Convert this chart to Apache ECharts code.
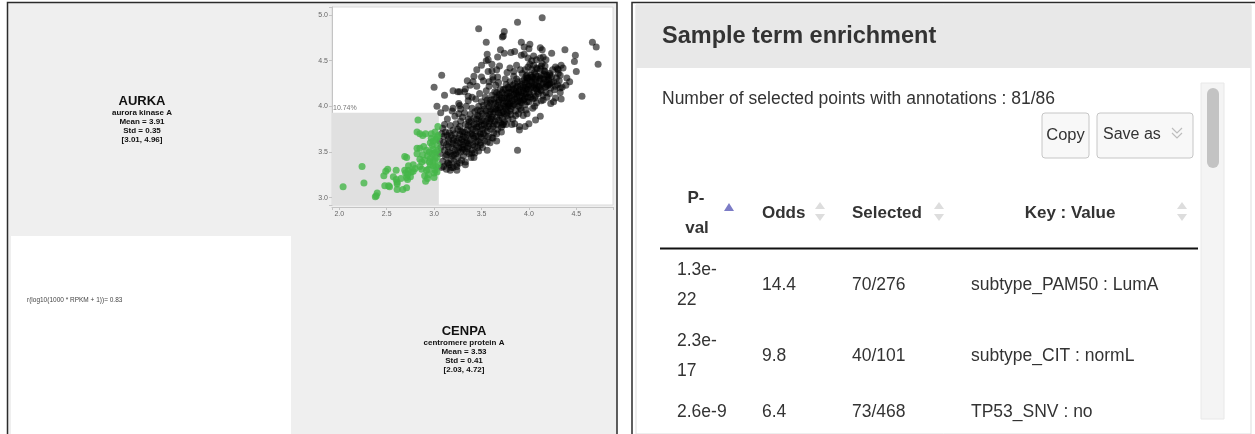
<!DOCTYPE html>
<html>
<head>
<meta charset="utf-8">
<script src="https://cdn.jsdelivr.net/npm/echarts@6/dist/echarts.min.js"></script>
<style>
  html, body { margin: 0; padding: 0; background: #fff; }
  #chart { width: 1255px; height: 434px; }
</style>
</head>
<body>
<div id="chart"></div>
<script>
// ---- Gene summaries (log10(1000 * RPKM + 1)) ----
const geneSymbols = ['AURKA', 'CENPA'];
const geneNames = ['aurora kinase A', 'centromere protein A'];
const geneMeans = [3.91, 3.53];
const geneStds = [0.35, 0.41];
const geneRanges = [[3.01, 4.96], [2.03, 4.72]];
const correlation = 0.83;

// ---- Scatter: CENPA (x) vs AURKA (y) ----
const xTickLabels = ['2.0', '2.5', '3.0', '3.5', '4.0', '4.5'];
const yTickLabels = ['3.0', '3.5', '4.0', '4.5', '5.0'];
const xExtent = [1.923, 4.887];
const yExtent = [2.92, 5.087];
const selectionBox = [3.05, 3.93];     // upper corner of the lasso rectangle
const selectionShare = '10.74%';

const selectedSamples = [
  [2.04,3.12],[2.24,3.34],[2.26,3.16],[2.38,3.01],[2.39,3.02],[2.40,3.05],[2.47,3.24],[2.49,3.29],
  [2.51,3.31],[2.48,3.13],[2.52,3.13],[2.53,3.12],[2.60,3.30],[2.60,3.20],[2.61,3.17],[2.61,3.15],
  [2.61,3.09],[2.67,3.09],[2.71,3.11],[2.69,3.30],[2.70,3.27],[2.71,3.22],[2.72,3.20],[2.69,3.45],
  [2.71,3.44],[2.73,3.35],[2.73,3.30],[2.76,3.28],[2.78,3.29],[2.75,3.23],[2.72,3.25],[2.83,3.85],
  [2.82,3.72],[2.85,3.70],[2.91,3.70],[2.88,3.68],[2.82,3.54],[2.85,3.54],[2.89,3.56],[2.82,3.48],
  [2.85,3.42],[2.87,3.39],[2.90,3.41],[2.85,3.34],[2.87,3.31],[2.92,3.30],[2.94,3.31],[2.90,3.24],
  [2.93,3.21],[2.94,3.25],[2.91,3.18],[2.96,3.60],[2.98,3.57],[2.99,3.62],[3.02,3.64],[3.03,3.66],
  [3.04,3.68],[2.95,3.50],[2.98,3.48],[3.00,3.49],[3.02,3.50],[3.04,3.52],[2.96,3.43],[2.99,3.41],
  [3.01,3.42],[3.03,3.44],[2.96,3.36],[2.99,3.35],[3.02,3.34],[3.04,3.36],[3.01,3.30],[3.03,3.28],
  [3.00,3.22],[3.04,3.78],[3.01,3.72],[2.97,3.70],[2.99,3.53],[3.03,3.58],[2.93,3.46],[2.95,3.39],
  [2.97,3.65],[2.88,3.47],[2.92,3.52],[3.00,3.27],[2.78,3.36],[2.80,3.32],[2.65,3.21],[2.57,3.23]
];

const otherSamples = [
  // sparse upper edge
  [4.14,4.97],[3.88,4.92],[3.47,4.85],[3.74,4.82],[3.72,4.76],[3.73,4.77],[3.55,4.70],[3.92,4.70],
  [4.01,4.68],[3.95,4.65],[4.00,4.63],[4.67,4.70],[4.71,4.65],[4.73,4.46],[4.38,4.62],[4.49,4.56],
  [4.48,4.49],[4.50,4.38],[4.24,4.58],[4.12,4.64],[4.14,4.62],[3.70,4.62],[3.74,4.58],[3.67,4.54],
  [3.56,4.57],[3.55,4.50],[3.81,4.59],[3.85,4.60],[3.92,4.56],[3.95,4.57],[3.99,4.53],[4.03,4.50],
  [4.05,4.55],[4.08,4.51],[4.12,4.53],[4.15,4.54],[4.18,4.51],[4.13,4.44],[3.66,4.40],[3.69,4.44],
  [3.61,4.39],[3.57,4.38],[3.62,4.32],[3.67,4.32],[3.58,4.27],[3.80,4.42],[3.84,4.38],[3.77,4.37],
  [3.87,4.45],[3.91,4.40],[3.96,4.40],[3.99,4.43],[4.05,4.45],[4.08,4.42],[3.98,4.34],[4.03,4.32],
  [4.07,4.35],[4.12,4.31],[4.17,4.38],[4.22,4.36],[4.28,4.43],[4.31,4.40],[4.33,4.34],[4.36,4.42],
  [4.40,4.31],[4.43,4.27],[4.39,4.23],[4.33,4.20],[4.28,4.22],[4.22,4.25],[4.19,4.29],[4.56,4.11],
  [4.34,4.08],[4.30,4.41],
  // sparse upper-left edge
  [3.08,4.34],[3.00,4.21],[3.11,4.12],[3.27,4.16],[3.32,4.16],[3.03,4.00],[3.12,3.98],[3.20,3.98],
  [3.27,4.01],[3.40,4.10],[3.20,4.17],[3.25,4.16],[3.33,4.19],[3.38,4.23],[3.36,4.11],[3.41,4.27],
  [3.50,4.32],[3.50,4.45],[3.57,4.51],[3.61,4.46],[3.35,4.28],[3.42,4.33],[3.45,4.40],
  // sparse lower-right edge
  [3.88,3.52],[4.06,4.00],[4.12,3.89],[4.07,3.85],[4.00,3.81],[3.96,3.78],[3.90,3.74],[3.90,3.78],
  [3.85,3.81],[3.98,3.92],[3.92,3.96],[4.23,4.03],[4.15,4.07],[3.73,3.80],[3.76,3.80],[3.66,3.70],
  [3.62,3.65],[3.56,3.61],[3.49,3.58],[3.40,3.49],[3.35,3.54],[3.30,3.53],[3.27,3.38],[3.20,3.33],
  [3.17,3.30],[3.24,3.34],[3.10,3.34],[3.15,3.38],
  // main band
  [3.06,3.62],[3.07,3.55],[3.08,3.70],[3.06,3.48],[3.09,3.40],[3.08,3.33],[3.10,3.60],[3.11,3.52],
  [3.12,3.45],[3.10,3.67],[3.13,3.58],[3.14,3.38],[3.12,3.72],[3.15,3.50],[3.15,3.64],[3.09,3.76],
  [3.13,3.31],[3.11,3.80],[3.07,3.93],[3.14,3.86],
  [3.16,3.36],[3.18,3.42],[3.17,3.49],[3.19,3.55],[3.16,3.61],[3.18,3.68],[3.20,3.74],[3.17,3.79],
  [3.19,3.46],[3.20,3.59],[3.16,3.71],[3.18,3.33],[3.21,3.40],[3.22,3.52],[3.21,3.65],[3.23,3.81],
  [3.22,3.89],[3.19,3.95],
  [3.24,3.37],[3.25,3.44],[3.23,3.48],[3.26,3.55],[3.24,3.62],[3.27,3.69],[3.25,3.75],[3.28,3.84],
  [3.26,3.92],[3.29,3.41],[3.28,3.50],[3.30,3.58],[3.29,3.64],[3.27,3.78],[3.30,3.72],[3.24,3.30],
  [3.28,3.97],[3.30,3.88],[3.26,4.03],
  [3.31,3.46],[3.33,3.39],[3.32,3.53],[3.34,3.60],[3.31,3.67],[3.35,3.74],[3.33,3.80],[3.36,3.86],
  [3.32,3.93],[3.37,3.48],[3.36,3.56],[3.38,3.63],[3.35,3.69],[3.39,3.77],[3.37,3.83],[3.38,3.91],
  [3.34,4.00],[3.40,3.52],[3.39,3.44],[3.36,4.06],[3.40,3.70],[3.40,3.98],[3.33,3.36],
  [3.41,3.58],[3.42,3.65],[3.43,3.49],[3.44,3.73],[3.42,3.80],[3.45,3.86],[3.43,3.94],[3.46,3.55],
  [3.44,3.61],[3.47,3.67],[3.45,3.77],[3.48,3.83],[3.46,3.90],[3.47,4.00],[3.49,3.60],[3.48,3.72],
  [3.50,3.79],[3.49,3.95],[3.44,4.08],[3.50,4.05],[3.42,3.44],[3.47,3.51],[3.48,4.14],[3.45,4.22],
  [3.50,3.66],
  [3.51,3.55],[3.52,3.70],[3.53,3.62],[3.54,3.76],[3.52,3.84],[3.55,3.90],[3.53,3.97],[3.56,4.03],
  [3.54,4.10],[3.57,3.67],[3.56,3.73],[3.58,3.81],[3.57,3.87],[3.59,3.94],[3.58,4.00],[3.60,4.07],
  [3.55,4.17],[3.59,3.60],[3.60,3.75],[3.56,3.52],[3.58,4.22],[3.52,4.28],[3.60,3.86],
  [3.61,3.66],[3.62,3.78],[3.63,3.71],[3.64,3.84],[3.62,3.91],[3.65,3.97],[3.63,4.04],[3.66,4.10],
  [3.64,4.16],[3.67,3.75],[3.66,3.88],[3.68,3.93],[3.67,4.01],[3.69,4.07],[3.68,4.13],[3.70,3.82],
  [3.65,4.23],[3.69,3.98],[3.70,4.19],[3.62,4.29],[3.66,3.62],[3.68,4.26],[3.70,3.90],
  [3.71,3.77],[3.72,3.87],[3.73,3.94],[3.74,4.00],[3.72,4.06],[3.75,4.12],[3.73,4.18],[3.76,4.24],
  [3.74,3.83],[3.77,3.90],[3.76,3.97],[3.78,4.04],[3.77,4.09],[3.79,4.15],[3.78,4.21],[3.80,3.95],
  [3.75,4.30],[3.79,4.02],[3.80,4.11],[3.71,3.72],[3.78,3.86],[3.80,4.27],
  [3.81,3.91],[3.82,4.00],[3.83,4.06],[3.84,4.13],[3.82,4.19],[3.85,4.25],[3.83,3.86],[3.86,3.95],
  [3.85,4.02],[3.87,4.09],[3.86,4.16],[3.88,4.22],[3.87,4.30],[3.89,4.00],[3.88,4.12],[3.90,4.06],
  [3.84,4.33],[3.90,4.18],[3.89,3.92],[3.82,3.80],
  [3.91,3.98],[3.92,4.04],[3.93,4.11],[3.94,4.17],[3.92,4.24],[3.95,4.29],[3.93,4.36],[3.96,4.02],
  [3.95,4.08],[3.97,4.14],[3.96,4.21],[3.98,4.27],[3.97,4.33],[3.99,4.10],[3.98,4.19],[4.00,4.24],
  [3.94,3.90],[4.00,4.05],[3.99,4.31],[3.97,3.96],
  [4.01,4.13],[4.02,4.20],[4.03,4.27],[4.04,4.08],[4.02,4.34],[4.05,4.16],[4.03,4.40],[4.06,4.23],
  [4.05,4.30],[4.07,4.11],[4.06,4.37],[4.08,4.19],[4.07,4.26],[4.09,4.33],[4.08,4.04],[4.10,4.22],
  [4.10,4.14],[4.09,4.41],[4.04,3.98],[4.01,4.46],
  [4.11,4.28],[4.12,4.18],[4.13,4.34],[4.14,4.24],[4.12,4.41],[4.15,4.12],[4.16,4.30],[4.14,4.47],
  [4.17,4.21],[4.16,4.39],[4.18,4.27],[4.19,4.34],[4.18,4.15],[4.20,4.23],[4.13,4.06],[4.20,4.32],
  [4.17,4.44],[4.19,4.10],
  [4.21,4.29],[4.23,4.20],[4.24,4.33],[4.22,4.14],[4.26,4.27],[4.25,4.40],[4.27,4.18],[4.29,4.31],
  [4.28,4.09],[4.30,4.24],[4.31,4.36],[4.33,4.15],[4.32,4.28],[4.34,4.45],[4.26,4.05],[4.35,4.21],
  // dense core
  [3.13,3.47],[3.15,3.56],[3.14,3.68],[3.21,3.47],[3.20,3.63],[3.23,3.58],[3.22,3.70],[3.25,3.51],
  [3.26,3.65],[3.27,3.60],[3.29,3.55],[3.28,3.73],[3.31,3.61],[3.32,3.72],[3.33,3.66],[3.34,3.50],
  [3.35,3.62],[3.36,3.79],[3.37,3.59],[3.38,3.70],[3.39,3.84],[3.41,3.68],[3.41,3.75],[3.42,3.87],
  [3.43,3.56],[3.44,3.67],[3.45,3.81],[3.46,3.96],[3.46,3.62],[3.47,3.78],[3.48,3.89],[3.49,3.70],
  [3.50,3.85],[3.51,3.92],[3.51,3.75],[3.52,4.01],[3.53,3.80],[3.54,3.68],[3.55,3.83],[3.55,3.95],
  [3.56,4.07],[3.57,3.78],[3.58,3.91],[3.59,3.84],[3.59,4.04],[3.60,3.97],[3.61,3.88],[3.61,4.12],
  [3.62,3.97],[3.63,3.81],[3.63,4.08],[3.64,3.94],[3.65,4.03],[3.66,3.80],[3.66,4.15],[3.67,3.96],
  [3.68,3.85],[3.68,4.05],[3.69,4.12],[3.70,3.99],[3.71,4.09],[3.71,3.93],[3.72,4.15],[3.72,3.80],
  [3.73,4.03],[3.74,4.09],[3.74,3.92],[3.75,3.99],[3.75,4.19],[3.76,4.05],[3.77,4.14],[3.77,3.93],
  [3.78,4.00],[3.79,4.08],[3.79,4.20],[3.80,4.03],[3.81,4.15],[3.81,3.97],[3.82,4.09],[3.83,4.23],
  [3.84,4.02],[3.84,4.18],[3.85,4.08],[3.86,4.20],[3.86,3.90],[3.87,4.14],[3.88,4.05],[3.88,4.27],
  [3.89,4.16],[3.90,4.11],[3.91,4.22],[3.91,4.05],[3.92,4.15],[3.93,4.28],[3.94,4.07],[3.94,4.21],
  [3.95,4.14],[3.96,4.26],[3.96,4.10],[3.97,4.19],[3.98,4.05],[3.98,4.31],[3.99,4.22],[4.00,4.15],
  [4.01,4.28],[4.02,4.10],[4.03,4.22],[4.04,4.32],[4.05,4.20],[4.06,4.09],[4.07,4.30],[4.08,4.23],
  [4.09,4.16],[4.11,4.21],[4.12,4.30],[4.13,4.17],[4.15,4.25],[4.16,4.35],[4.18,4.22],[4.21,4.24],
  [4.22,4.34],[4.24,4.26]
];

// ---- Enrichment table ----
const panelTitle = 'Sample term enrichment';
const annotatedCount = 81;
const selectedCount = 86;
const tableHeaders = ['P-val', 'Odds', 'Selected', 'Key : Value'];
const pValues = ['1.3e-22', '2.3e-17', '2.6e-9'];
const oddsRatios = ['14.4', '9.8', '6.4'];
const selectedFractions = ['70/276', '40/101', '73/468'];
const termLabels = ['subtype_PAM50 : LumA', 'subtype_CIT : normL', 'TP53_SNV : no'];

// ---------------------------------------------------------------
const FONT = '"Liberation Sans", Arial, Helvetica, sans-serif';

function text(x, y, str, size, opt) {
  opt = opt || {};
  return {
    type: 'text', x: x, y: y, z: opt.z || 5, silent: true,
    style: {
      text: str,
      font: (opt.bold ? 'bold ' : '') + size + 'px ' + FONT,
      fill: opt.color || '#333',
      textAlign: opt.align || 'left',
      verticalAlign: 'middle'
    }
  };
}
function rect(x, y, w, h, fill, opt) {
  opt = opt || {};
  return {
    type: 'rect', z: opt.z != null ? opt.z : -10, silent: true,
    shape: { x: x, y: y, width: w, height: h, r: opt.r || 0 },
    style: { fill: fill, stroke: opt.stroke || null, lineWidth: opt.lineWidth || 1 }
  };
}
function poly(points, stroke, width, z) {
  return { type: 'polyline', z: z || 6, silent: true, shape: { points: points },
           style: { stroke: stroke, lineWidth: width, fill: null } };
}
function tri(points, fill) {
  return { type: 'polygon', z: 6, silent: true, shape: { points: points }, style: { fill: fill } };
}

const elements = [];

// Left panel: gene cells around the scatter plot
elements.push(rect(8, 3, 609, 431, '#efefef', { z: -12 }));
elements.push(rect(11, 236, 280, 198, '#ffffff', { z: -11 }));
elements.push(poly([[7.5, 434], [7.5, 2.5], [617, 2.5], [617, 434]], '#2b2b2b', 1.5, 20));

function geneBlock(i, cx, cy) {
  elements.push(text(cx, cy, geneSymbols[i], 13, { bold: true, align: 'center', color: '#111' }));
  const lines = [
    geneNames[i],
    'Mean = ' + geneMeans[i].toFixed(2),
    'Std = ' + geneStds[i].toFixed(2),
    '[' + geneRanges[i][0].toFixed(2) + ', ' + geneRanges[i][1].toFixed(2) + ']'
  ];
  lines.forEach(function (s, k) {
    elements.push(text(cx, cy + 12 + k * 9, s, 8, { bold: true, align: 'center', color: '#111' }));
  });
}
geneBlock(0, 142, 101);
geneBlock(1, 464, 331);
elements.push(text(27, 300, 'r(log10(1000 * RPKM + 1))= ' + correlation.toFixed(2), 6.5, { color: '#444' }));

// Right panel: enrichment card
elements.push(poly([[632, 434], [632, 2.5], [1255, 2.5]], '#2b2b2b', 1.5, 20));
elements.push(rect(636, 5, 615, 429, '#ffffff', { z: -12, stroke: '#dddddd' }));
elements.push(rect(636, 5, 615, 63, '#e8e8e8', { z: -11 }));
elements.push(text(662, 37, panelTitle, 23.5, { bold: true, color: '#333' }));
elements.push(text(662, 99, 'Number of selected points with annotations : ' + annotatedCount + '/' + selectedCount, 17.5));

// buttons
elements.push(rect(1042, 113, 47, 45, '#f8f8f8', { z: 1, stroke: '#c6c6c6', r: 3 }));
elements.push(text(1065.5, 135, 'Copy', 16.5, { align: 'center' }));
elements.push(rect(1097, 113, 96, 45, '#f8f8f8', { z: 1, stroke: '#c6c6c6', r: 3 }));
elements.push(text(1103, 135, 'Save as', 16));
elements.push(poly([[1172, 128], [1177, 133], [1182, 128]], '#bdbdbd', 1.2));
elements.push(poly([[1172, 133], [1177, 138], [1182, 133]], '#bdbdbd', 1.2));

// scrollbar
elements.push(rect(1201, 83, 23, 336, '#f4f4f4', { z: 1, stroke: '#e8e8e8' }));
elements.push(rect(1207, 88, 12, 80, '#c3c3c3', { z: 2, r: 6 }));

// table header
const pvParts = tableHeaders[0].split('-');
elements.push(text(696, 198, pvParts[0] + '-', 17, { bold: true, align: 'center' }));
elements.push(text(697, 228, pvParts[1], 17, { bold: true, align: 'center' }));
elements.push(tri([[724, 211], [734, 211], [729, 203]], '#7c7cc6'));
elements.push(text(762, 213, tableHeaders[1], 17, { bold: true }));
elements.push(text(852, 213, tableHeaders[2], 17, { bold: true }));
elements.push(text(1070, 213, tableHeaders[3], 17, { bold: true, align: 'center' }));
[820, 939, 1182].forEach(function (cx) {
  elements.push(tri([[cx - 5, 209], [cx + 5, 209], [cx, 202]], '#dddddd'));
  elements.push(tri([[cx - 5, 214], [cx + 5, 214], [cx, 221]], '#dddddd'));
});
elements.push(poly([[660, 248.5], [1198, 248.5]], '#111', 2));

// table rows
const rowMid = [285.5, 356, 412];
pValues.forEach(function (pv, i) {
  const y = rowMid[i];
  const dash = pv.indexOf('-', 4);
  if (pv.length > 6 && dash > 0) {
    elements.push(text(677, y - 15, pv.slice(0, dash + 1), 17.5));
    elements.push(text(677, y + 15, pv.slice(dash + 1), 17.5));
  } else {
    elements.push(text(677, y, pv, 17.5));
  }
  elements.push(text(762, y, oddsRatios[i], 17.5));
  elements.push(text(852, y, selectedFractions[i], 17.5));
  elements.push(text(971, y, termLabels[i], 17.5));
});

function tickFormatter(list) {
  return function (v) {
    const s = v.toFixed(1);
    return list.indexOf(s) >= 0 && Math.abs(v - parseFloat(s)) < 1e-6 ? s : '';
  };
}
const axisCommon = {
  type: 'value',
  minInterval: 0.5,
  maxInterval: 0.5,
  axisLine: { show: true, onZero: false, lineStyle: { color: '#c4c4c4', width: 1 } },
  axisTick: { show: true, length: 3, lineStyle: { color: '#c4c4c4' } },
  splitLine: { show: false }
};

const chart = echarts.init(document.getElementById('chart'), null, { renderer: 'canvas' });
chart.setOption({
  animation: false,
  backgroundColor: '#ffffff',
  graphic: { elements: elements },
  grid: {
    left: 332, top: 7, right: 642, bottom: 229,
    show: true, backgroundColor: '#ffffff', borderColor: '#dadada', borderWidth: 1
  },
  xAxis: Object.assign({}, axisCommon, {
    min: xExtent[0], max: xExtent[1], offset: 2,
    axisLabel: { fontSize: 7, color: '#666', margin: 4, fontFamily: FONT,
                 formatter: tickFormatter(xTickLabels) }
  }),
  yAxis: Object.assign({}, axisCommon, {
    min: yExtent[0], max: yExtent[1],
    axisLabel: { fontSize: 7, color: '#666', margin: 4, fontFamily: FONT,
                 formatter: tickFormatter(yTickLabels) }
  }),
  series: [
    {
      type: 'scatter', name: 'selection', data: [], z: 1, silent: true,
      markArea: {
        silent: true,
        itemStyle: { color: '#e0e0e0' },
        label: { show: true, position: [1, -8], formatter: selectionShare,
                 fontSize: 7, color: '#777', fontFamily: FONT },
        data: [[{ coord: [xExtent[0], yExtent[0]] }, { coord: selectionBox }]]
      }
    },
    {
      type: 'scatter', name: 'other', data: otherSamples, z: 2, silent: true,
      symbolSize: 7, itemStyle: { color: 'rgba(0,0,0,0.74)' }
    },
    {
      type: 'scatter', name: 'selected', data: selectedSamples, z: 3, silent: true,
      symbolSize: 7, itemStyle: { color: '#45b649' }
    }
  ]
});
</script>
</body>
</html>
